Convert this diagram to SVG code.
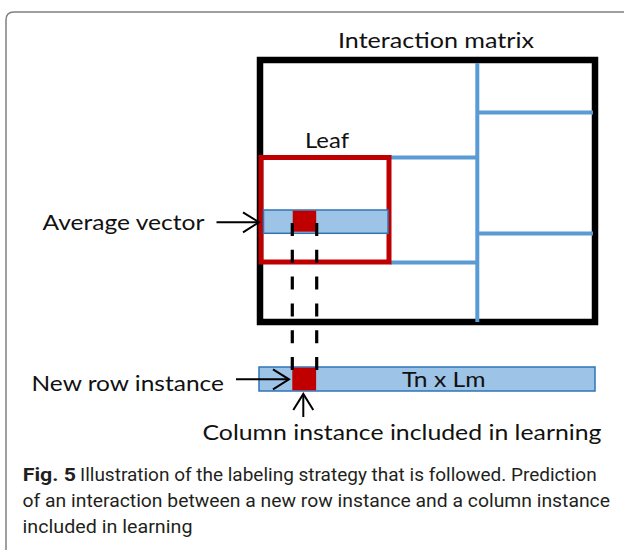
<svg xmlns="http://www.w3.org/2000/svg" width="624" height="550" viewBox="0 0 624 550">
<defs>
<style>
.lbl{font-family:Lato,"Open Sans","Liberation Sans",sans-serif;font-size:22px;fill:#111}
.cap{font-family:Roboto,"Liberation Sans",sans-serif;font-size:18.5px;fill:#231f20}
.capb{font-weight:bold}
.blue{stroke:#5b9bd5;stroke-width:4;fill:none}
.bar{fill:#9dc3e6;stroke:#2e75b6;stroke-width:1.5}
.redsq{fill:#c00000}
.dash{stroke:#000;stroke-width:3.2;stroke-dasharray:13 13.8;fill:none}
.arr{stroke:#000;stroke-width:2;fill:none;marker-end:url(#open)}
</style>
<marker id="open" markerUnits="userSpaceOnUse" markerWidth="24" markerHeight="24" viewBox="-18 -12 20 24" refX="0" refY="0" orient="auto">
<path d="M-16,-10 L0,0 L-16,10" fill="none" stroke="#000" stroke-width="2"/>
</marker>
</defs>
<rect width="624" height="550" fill="#fff"/>
<path id="frame" d="M6,550 V20 Q6,12 14,12 H624" fill="none" stroke="#808080" stroke-width="1.5"/>

<g id="matrix">
<rect x="260" y="60" width="335" height="262" fill="none" stroke="#000" stroke-width="6.5"/>
<text class="lbl" x="338" y="48" textLength="196" lengthAdjust="spacingAndGlyphs">Interaction matrix</text>
</g>
<g id="splits">
<line class="blue" x1="477.3" y1="63" x2="477.3" y2="322"/>
<line class="blue" x1="477" y1="112.5" x2="593" y2="112.5"/>
<line class="blue" x1="477" y1="233.5" x2="593" y2="233.5"/>
<line class="blue" x1="390" y1="157.5" x2="477" y2="157.5"/>
<line class="blue" x1="390" y1="262.5" x2="477" y2="262.5"/>
</g>
<g id="leaf">
<rect x="261" y="157.5" width="128" height="104.5" fill="none" stroke="#c00000" stroke-width="5"/>
<text class="lbl" x="305" y="148" textLength="44" lengthAdjust="spacingAndGlyphs">Leaf</text>
</g>
<g id="average-vector">
<rect class="bar" x="263.5" y="210" width="124.5" height="23.3"/>
<rect class="redsq" x="292.7" y="210.7" width="23.5" height="21"/>
<text class="lbl" x="42.5" y="229.5" textLength="162" lengthAdjust="spacingAndGlyphs">Average vector</text>
</g>
<g id="new-row">
<rect class="bar" x="259" y="367" width="336" height="24"/>
<rect class="redsq" x="292.3" y="367.7" width="23.8" height="22.6"/>
<text class="lbl" x="402" y="386.5" textLength="83.5" lengthAdjust="spacingAndGlyphs">Tn x Lm</text>
<text class="lbl" x="31.5" y="390.5" textLength="192.5" lengthAdjust="spacingAndGlyphs">New row instance</text>
</g>
<g id="column-label">
<text class="lbl" x="202.5" y="440" textLength="399" lengthAdjust="spacingAndGlyphs">Column instance included in learning</text>
</g>
<g id="connectors">
<line class="dash" x1="292.3" y1="223" x2="292.3" y2="370"/>
<line class="dash" x1="316.7" y1="223" x2="316.7" y2="370"/>
<line class="arr" x1="216.5" y1="222.3" x2="259" y2="222.3"/>
<line class="arr" x1="236" y1="379.3" x2="289" y2="379.3"/>
<line class="arr" x1="303.3" y1="417" x2="303.3" y2="394"/>
</g>
<g id="caption">
<text class="cap capb" x="22.7" y="480.5" textLength="53.3" lengthAdjust="spacingAndGlyphs">Fig. 5</text>
<text class="cap" x="80" y="480.5" textLength="516.7" lengthAdjust="spacingAndGlyphs">Illustration of the labeling strategy that is followed. Prediction</text>
<text class="cap" x="22.5" y="506.5" textLength="587.5" lengthAdjust="spacingAndGlyphs">of an interaction between a new row instance and a column instance</text>
<text class="cap" x="22.5" y="532.5" textLength="170" lengthAdjust="spacingAndGlyphs">included in learning</text>
</g>
</svg>
